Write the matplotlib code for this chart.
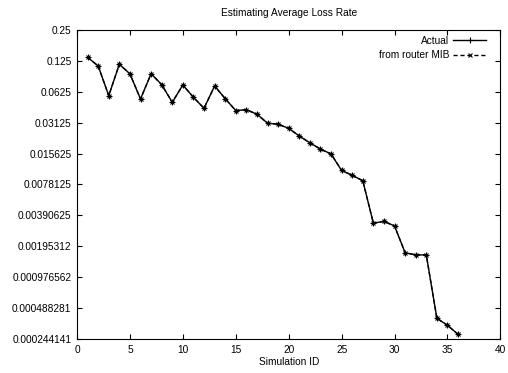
import matplotlib
matplotlib.use("Agg")
import matplotlib.pyplot as plt
from matplotlib.ticker import NullLocator

plt.rcParams['font.family'] = ['Liberation Sans', 'DejaVu Sans']
plt.rcParams['font.size'] = 7.3

# data
sim_id = list(range(1, 37))
actual = [0.1355, 0.1115, 0.0573, 0.116, 0.0933, 0.0532, 0.0938, 0.0733, 0.0494,
          0.0728, 0.0552, 0.0432, 0.0712, 0.0536, 0.0410, 0.0418, 0.0378, 0.0309,
          0.0302, 0.0275, 0.0232, 0.0199, 0.0173, 0.0155, 0.0107, 0.0096, 0.0085,
          0.00328, 0.00342, 0.00308, 0.00169, 0.00161, 0.00161, 0.000388,
          0.000332, 0.000271]
router_mib = list(actual)

x_ticks = [0, 5, 10, 15, 20, 25, 30, 35, 40]
y_ticks = [2.0 ** -k for k in range(2, 13)]
y_labels = ['0.25', '0.125', '0.0625', '0.03125', '0.015625', '0.0078125',
            '0.00390625', '0.00195312', '0.000976562', '0.000488281',
            '0.000244141']

fig = plt.figure(figsize=(5.08, 3.73), dpi=100)
ax = fig.add_axes([0.1516, 0.0912, 0.8334, 0.8284])

ax.plot(sim_id, actual, color='black', lw=1.0, marker='+', ms=4, mew=0.8,
        label='Actual')
ax.plot(sim_id, router_mib, color='black', lw=1.0, ls=(0, (3, 2)), marker='x',
        ms=3.5, mew=0.8, label='from router MIB')

ax.set_yscale('log', base=2)
ax.set_xlim(0, 40)
ax.set_ylim(y_ticks[-1], y_ticks[0])
ax.set_xticks(x_ticks)
ax.set_xticklabels([str(t) for t in x_ticks])
ax.set_yticks(y_ticks)
ax.set_yticklabels(y_labels)
ax.yaxis.set_minor_locator(NullLocator())
ax.tick_params(direction='in', length=3.5, width=0.8, top=True, right=True,
               pad=4)
for s in ax.spines.values():
    s.set_linewidth(0.8)

ax.set_title('Estimating Average Loss Rate', fontsize=7.3, pad=10)
ax.set_xlabel('Simulation ID', labelpad=2)

ax.legend(loc='upper right', bbox_to_anchor=(0.975, 0.995), frameon=False,
          markerfirst=False, handlelength=3.2, handletextpad=0.4,
          labelspacing=0.45, borderaxespad=0)

fig.savefig('out.png', dpi=100)
